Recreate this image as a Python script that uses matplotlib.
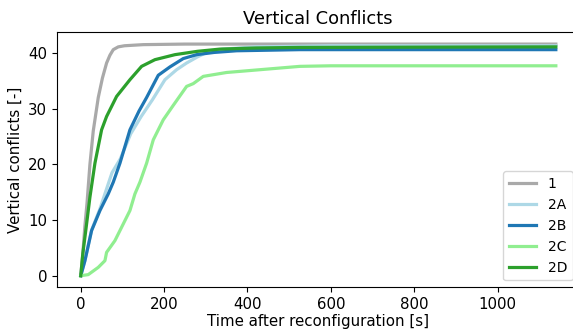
import matplotlib
matplotlib.use("Agg")
import matplotlib.pyplot as plt

# cumulative vertical conflicts vs time after reconfiguration
t_1 = [0, 5, 10, 15, 22, 30, 42, 52, 62, 70, 78, 90, 105, 150, 250, 1140]
c_1 = [0, 4, 9, 13, 20, 26, 32, 35.5, 38.2, 39.6, 40.6, 41.1, 41.3, 41.5, 41.6, 41.6]

t_2a = [0, 10, 26, 46, 62, 75, 95, 120, 145, 172, 202, 230, 254, 280, 302, 340, 420, 600, 1140]
c_2a = [0, 2.7, 8.2, 12.0, 15.6, 18.5, 21.0, 25.5, 28.6, 31.6, 35.2, 37.0, 38.2, 39.3, 40.1, 40.7, 41.1, 41.3, 41.3]

t_2b = [0, 10, 26, 46, 66, 78, 94, 118, 140, 158, 186, 214, 246, 278, 320, 374, 526, 1140]
c_2b = [0, 2.7, 8.1, 11.7, 14.7, 16.8, 20.2, 26.2, 29.6, 32.0, 36.0, 37.5, 39.0, 39.7, 40.1, 40.4, 40.6, 40.6]

t_2c = [0, 18, 42, 58, 62, 82, 102, 118, 130, 142, 158, 174, 198, 222, 254, 270, 294, 350, 430, 526, 600, 1140]
c_2c = [0, 0.2, 1.5, 2.7, 4.2, 6.3, 9.3, 11.7, 14.7, 16.8, 20.2, 24.4, 28.0, 30.6, 34.0, 34.5, 35.8, 36.5, 37.0, 37.6, 37.7, 37.7]

t_2d = [0, 5, 12, 22, 34, 50, 62, 86, 118, 146, 178, 226, 280, 334, 420, 526, 1140]
c_2d = [0, 4, 8.1, 14.1, 20.2, 26.2, 28.6, 32.2, 35.2, 37.6, 38.8, 39.7, 40.3, 40.7, 40.9, 41.0, 41.1]

series = [("1", t_1, c_1, "darkgray"),
          ("2A", t_2a, c_2a, "lightblue"),
          ("2B", t_2b, c_2b, "tab:blue"),
          ("2C", t_2c, c_2c, "lightgreen"),
          ("2D", t_2d, c_2d, "tab:green")]

plt.rcParams["font.size"] = 10.8

fig = plt.figure(figsize=(5.73, 3.31), dpi=100)
# axes runs a bit past the right edge, like the cropped original
ax = fig.add_axes([57 / 573, 1 - 287.3 / 331, (579.6 - 57) / 573, (287.3 - 32.5) / 331])

for name, t, c, col in series:
    ax.plot(t, c, color=col, lw=2.3, label=name)

ax.set_title("Vertical Conflicts", fontsize=12.9)
ax.set_xlabel("Time after reconfiguration [s]", labelpad=1.5)
ax.set_ylabel("Vertical conflicts [-]")
ax.set_xticks([0, 200, 400, 600, 800, 1000])
ax.set_yticks([0, 10, 20, 30, 40])
ax.legend(loc="lower right", fontsize=10)

plt.savefig("out.png", dpi=100)
